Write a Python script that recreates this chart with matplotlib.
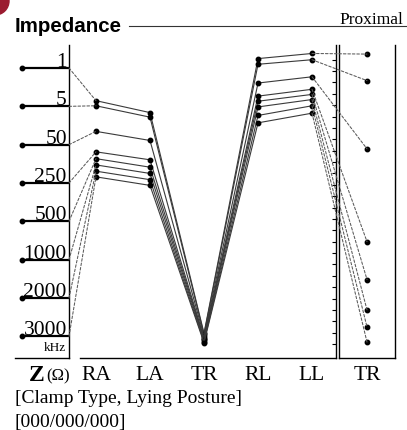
import matplotlib.pyplot as plt
from matplotlib.patches import ConnectionPatch, Ellipse
from matplotlib.lines import Line2D

# dados (impedancia em ohm)
freqs = ["1", "5", "50", "250", "500", "1000", "2000", "3000"]
segmentos = ["RA", "LA", "TR", "RL", "LL"]
RA = [438, 429, 384, 348, 336, 325, 314, 304]
LA = [417, 409, 368, 334, 321, 310, 299, 289]
TR = [29, 27, 24, 21, 19, 17, 14, 12]
RL = [512, 502, 469, 446, 437, 427, 412, 399]
LL = [521, 510, 480, 458, 449, 440, 429, 416]
TR_zoom = [35.3, 33.9, 30.3, 25.4, 23.4, 21.8, 20.9, 20.1]
escala = list(range(10, 511, 20))

W, H = 407, 431
fig = plt.figure(figsize=(W / 100, H / 100), dpi=100)
serif = "Liberation Serif"

def box(x0, x1, y0=46, y1=359):
    return [x0 / W, 1 - y1 / H, (x1 - x0) / W, (y1 - y0) / H]

ax_f = fig.add_axes(box(15, 69))
ax = fig.add_axes(box(80, 336))
ax_tr = fig.add_axes(box(339, 395))

# painel das frequencias
ax_f.set_xlim(0, 1)
ax_f.set_ylim(7.566, -0.6)
for i, f in enumerate(freqs):
    ax_f.plot([0.13, 1], [i, i], color="black", lw=1.6, solid_capstyle="butt")
    ax_f.plot([0.13], [i], "o", color="black", ms=3.2)
    ax_f.annotate(f, (0.96, i), xytext=(0, 1.5), textcoords="offset points",
                  ha="right", va="baseline", fontsize=15.5, family=serif)
ax_f.text(0.94, 7.28, "kHz", ha="right", va="center", fontsize=9.5, family=serif)
for s in ["top", "left"]:
    ax_f.spines[s].set_visible(False)
ax_f.spines["right"].set_linewidth(1.0)
ax_f.spines["bottom"].set_linewidth(1.0)
ax_f.set_xticks([])
ax_f.set_yticks([])

# painel principal
ax.set_xlim(-0.296, 4.444)
ax.set_ylim(-14.6, 535.9)
for k in range(len(freqs)):
    ys = [RA[k], LA[k], TR[k], RL[k], LL[k]]
    ax.plot(range(5), ys, "-o", color="#3a3a3a", lw=0.8, ms=3.2, mfc="black", mec="black")
for s in ["top", "left"]:
    ax.spines[s].set_visible(False)
ax.spines["right"].set_linewidth(1.0)
ax.spines["bottom"].set_linewidth(1.0)
ax.yaxis.tick_right()
ax.set_yticks(escala)
ax.tick_params(axis="y", direction="in", length=3, width=0.8, labelright=False)
ax.set_xticks(range(5), segmentos, family=serif, fontsize=15.5)
ax.tick_params(axis="x", length=0, pad=5)

# painel TR ampliado
ax_tr.set_xlim(-1, 1)
ax_tr.set_ylim(19.26, 35.78)
ax_tr.plot([0] * len(TR_zoom), TR_zoom, "o", color="black", ms=3.2)
ax_tr.spines["top"].set_visible(False)
for s in ["left", "right", "bottom"]:
    ax_tr.spines[s].set_linewidth(1.0)
ax_tr.set_yticks([])
ax_tr.set_xticks([0], ["TR"], family=serif, fontsize=15.5)
ax_tr.tick_params(axis="x", length=0, pad=5)

# ligacoes tracejadas
estilo = dict(color="#5a5a5a", lw=0.75, linestyle=(0, (2.5, 1.8)))
for k in range(len(freqs)):
    fig.add_artist(ConnectionPatch((1, k), (0, RA[k]), coordsA=ax_f.transData,
                                   coordsB=ax.transData, **estilo))
    fig.add_artist(ConnectionPatch((4, LL[k]), (0, TR_zoom[k]), coordsA=ax.transData,
                                   coordsB=ax_tr.transData, **estilo))

# textos
fig.text(45 / W, 1 - 376 / H, "Z", ha="right", va="center", fontsize=17,
         fontweight="bold", family=serif)
fig.text(46 / W, 1 - 376 / H, "(Ω)", ha="left", va="center", fontsize=12, family=serif)
fig.text(15 / W, 1 - 32 / H, "Impedance", ha="left", va="baseline", fontsize=14.8,
         fontweight="bold", family="Liberation Sans")
fig.add_artist(Line2D([129 / W, 1], [1 - 27.3 / H] * 2, color="#333333", lw=0.8))
fig.text(403 / W, 1 - 24.5 / H, "Proximal", ha="right", va="baseline", fontsize=12.5,
         family=serif)
fig.text(15 / W, 1 - 399 / H, "[Clamp Type, Lying Posture]", ha="left", va="center",
         fontsize=14, family=serif)
fig.text(15 / W, 1 - 423 / H, "[000/000/000]", ha="left", va="center",
         fontsize=14, family=serif)
fig.add_artist(Ellipse((-5 / W, 1 - 2 / H), 28 / W, 28 / H, color="#9b1b30",
                       transform=fig.transFigure))

plt.savefig("out.png", dpi=100)
